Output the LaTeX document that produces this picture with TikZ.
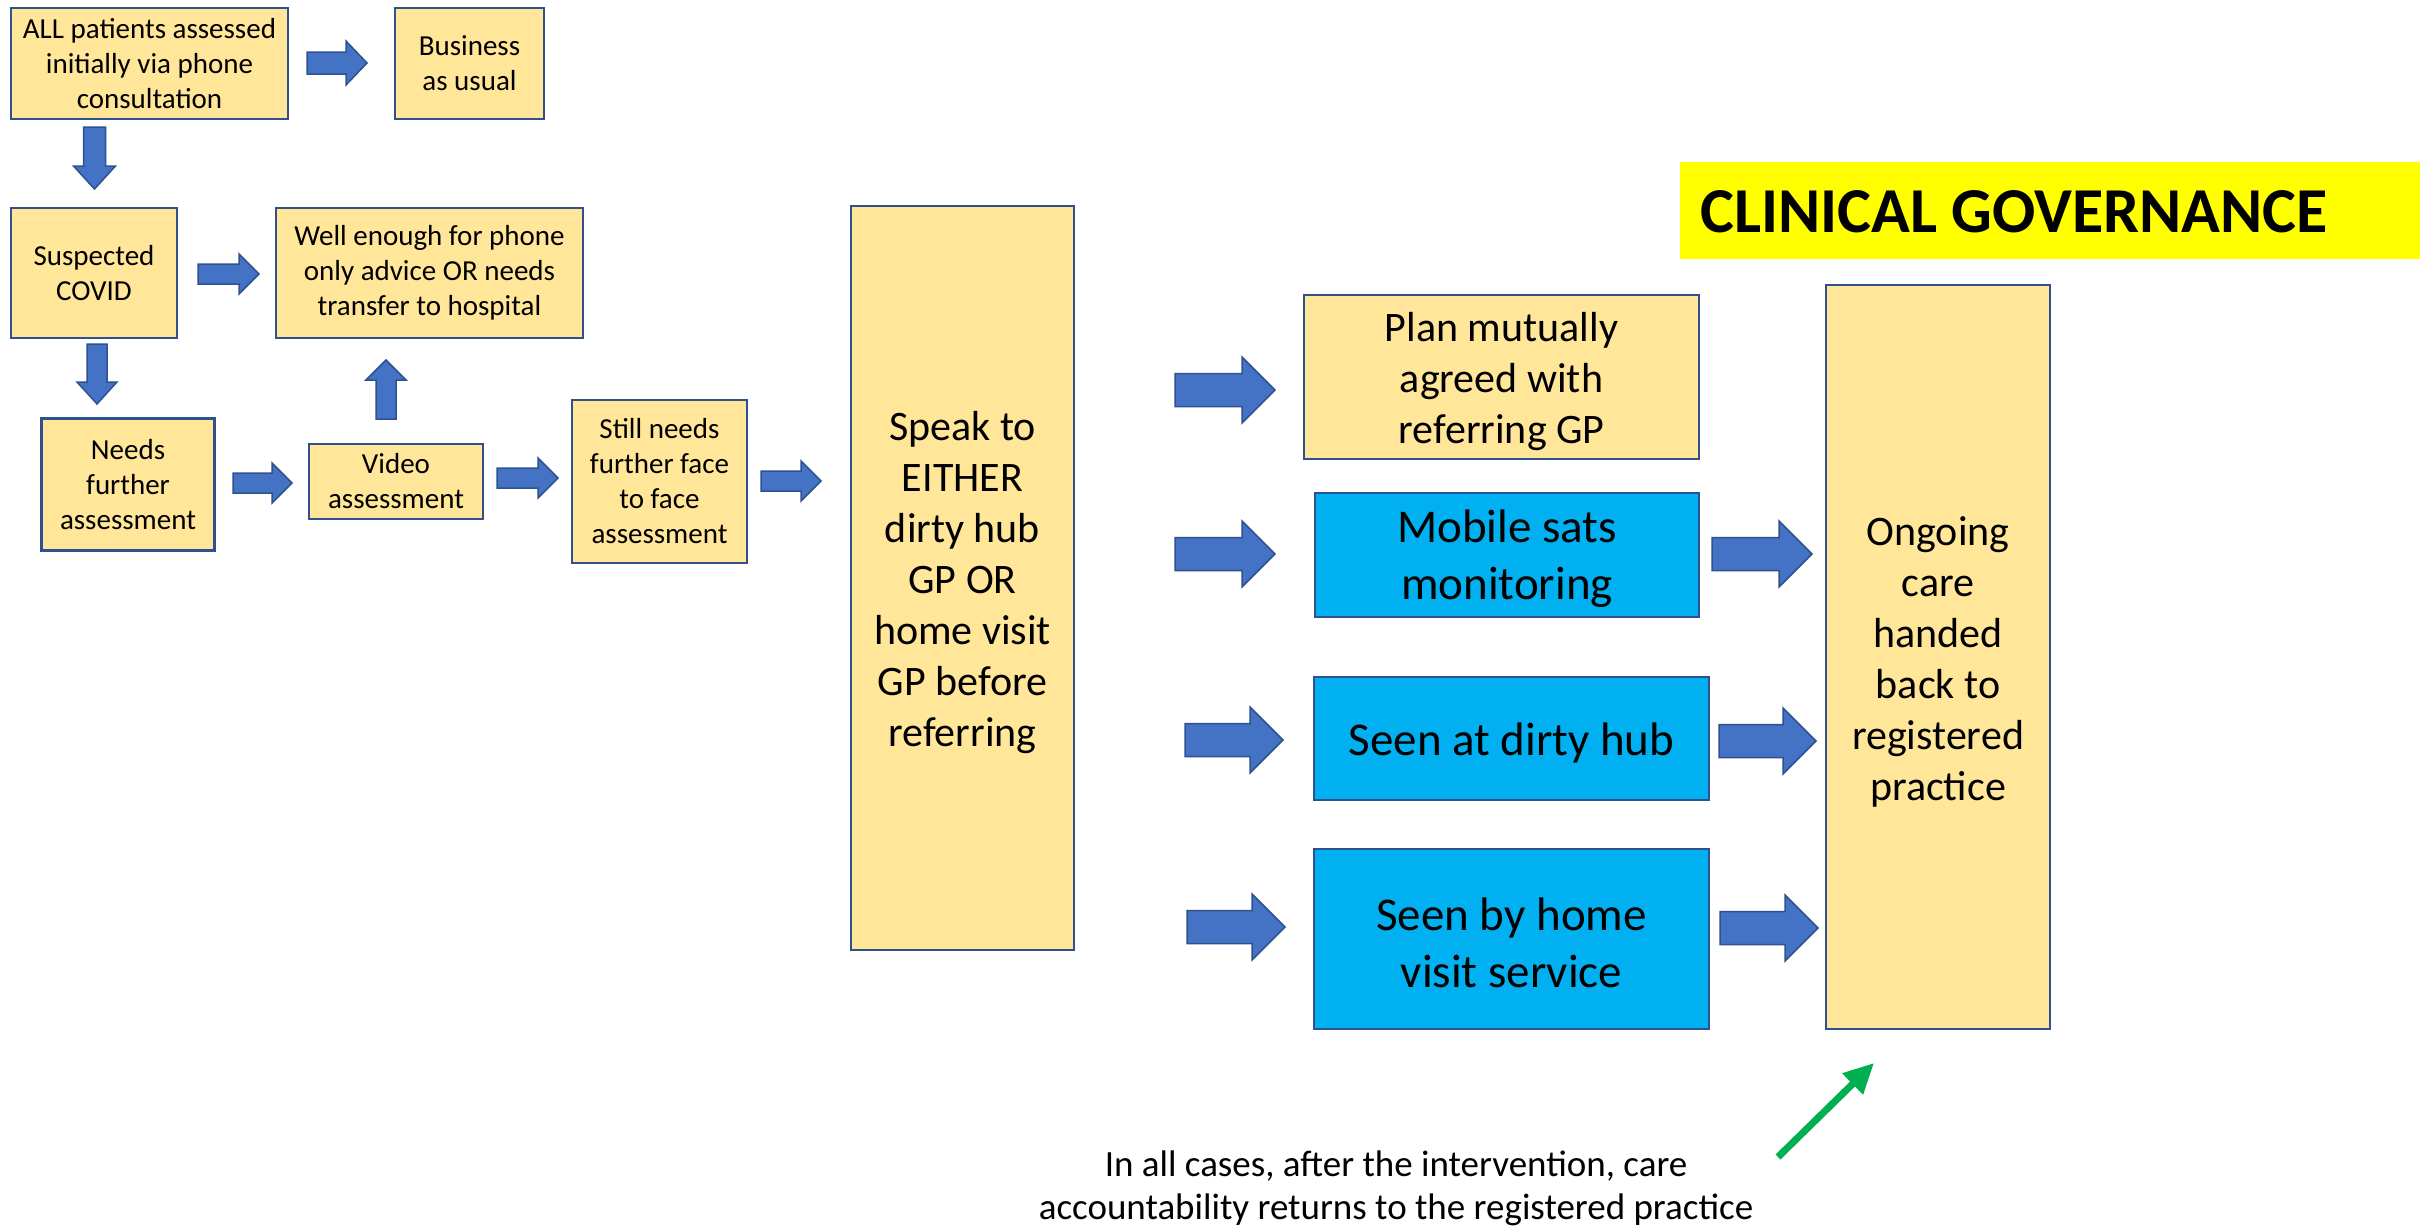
\documentclass[tikz,border=0pt]{standalone}
\usepackage{fontspec}
\setmainfont{Carlito}
\usetikzlibrary{arrows.meta}
\definecolor{boxyellow}{HTML}{FFE699}
\definecolor{boxblue}{HTML}{00B0F0}
\definecolor{boxline}{HTML}{2F528F}
\definecolor{arrowblue}{HTML}{4472C4}
\definecolor{arrowline}{HTML}{2F528F}
\definecolor{bannery}{HTML}{FFFF00}
\definecolor{greenarrow}{HTML}{00B050}
\newcommand{\barrow}[6]{%
  \draw[blockarrow, shift={(#1)}, rotate=#2]
    (0,-#4) -- ({#3-#6},-#4) -- ({#3-#6},-#5) -- (#3,0) -- ({#3-#6},#5) -- ({#3-#6},#4) -- (0,#4) -- cycle;}
\tikzset{
  ybox/.style={draw=boxline, fill=boxyellow, line width=2.5pt, inner sep=0pt, align=center, text=black},
  bbox/.style={ybox, fill=boxblue},
  smalltxt/.style={font=\fontsize{29}{35}\selectfont},
  bigtxt/.style={font=\fontsize{42}{51}\selectfont, align=center, inner sep=0pt, yshift=-5pt},
  midtxt/.style={font=\fontsize{47}{57}\selectfont, align=center, inner sep=0pt, yshift=-4pt},
  blockarrow/.style={fill=arrowblue, draw=arrowline, line width=1.5pt, line join=miter},
}
\begin{document}
\begin{tikzpicture}[x=1pt,y=-1pt]
\useasboundingbox[fill=white] (0,0) rectangle (2430,1229);
% left column boxes
\node[ybox, smalltxt, minimum width=277, minimum height=111] (all) at (149.5,63.5) {ALL patients assessed\\initially via phone\\consultation};
\node[ybox, smalltxt, minimum width=149, minimum height=111] (bau) at (469.5,63.5) {Business\\as usual};
\node[ybox, smalltxt, minimum width=166, minimum height=130] (susp) at (94,273) {Suspected\\COVID};
\node[ybox, smalltxt, minimum width=307, minimum height=130] (well) at (429.5,273) {Well enough for phone\\only advice OR needs\\transfer to hospital};
\node[ybox, smalltxt, minimum width=173, minimum height=132] (needs) at (128,484.5) {Needs\\further\\assessment};
\node[ybox, smalltxt, minimum width=174, minimum height=75] (video) at (396,481.5) {Video\\assessment};
\node[ybox, smalltxt, minimum width=175, minimum height=163] (still) at (659.5,481.5) {Still needs\\further face\\to face\\assessment};
\node[ybox, minimum width=223, minimum height=744,
  label={[bigtxt]center:{Speak to\\EITHER\\dirty hub\\GP OR\\home visit\\GP before\\referring}}] (speak) at (962.5,578) {};
% right column
\node[ybox, minimum width=395, minimum height=164,
  label={[bigtxt]center:{Plan mutually\\agreed with\\referring GP}}] (plan) at (1501.5,377) {};
\node[bbox, minimum width=384, minimum height=124,
  label={[midtxt]center:{Mobile sats\\monitoring}}] (mobile) at (1507,555) {};
\node[bbox, minimum width=395, minimum height=123,
  label={[midtxt]center:{Seen at dirty hub}}] (dirty) at (1511.5,738.5) {};
\node[bbox, minimum width=395, minimum height=180,
  label={[midtxt]center:{Seen by home\\visit service}}] (home) at (1511.5,939) {};
\node[ybox, minimum width=224, minimum height=744,
  label={[bigtxt]center:{Ongoing\\care\\handed\\back to\\registered\\practice}}] (ongoing) at (1938,657) {};
\node[fill=bannery, minimum width=740, minimum height=97, inner sep=0pt] (banner) at (2050,210.5) {};
\node[anchor=west, inner sep=0pt, font=\fontsize{64}{76}\selectfont\bfseries] (cg) at (1700,212) {CLINICAL GOVERNANCE};
% arrow start points
\coordinate (s1) at (307,63);
\coordinate (s2) at (94.5,127);
\coordinate (s3) at (198,274);
\coordinate (s4) at (97,344);
\coordinate (s5) at (233,483);
\coordinate (s6) at (386,419);
\coordinate (s7) at (497,478);
\coordinate (s8) at (761,481);
\coordinate (s9) at (1175,390);
\coordinate (s10) at (1175,554);
\coordinate (s11) at (1185,740);
\coordinate (s12) at (1187,927);
\coordinate (s13) at (1712,554);
\coordinate (s14) at (1719,741);
\coordinate (s15) at (1720,928);
\barrow{s1}{0}{60}{11}{22}{21}
\barrow{s2}{-90}{62}{11}{21}{23}
\barrow{s3}{0}{61}{10}{20}{20}
\barrow{s4}{-90}{60}{10}{20}{22}
\barrow{s5}{0}{59}{10}{20}{20}
\barrow{s6}{90}{59}{10}{20}{20}
\barrow{s7}{0}{61}{10}{20}{20}
\barrow{s8}{0}{60}{10}{20}{20}
\barrow{s9}{0}{100}{16.5}{33}{33}
\barrow{s10}{0}{100}{16.5}{33}{33}
\barrow{s11}{0}{98}{16.5}{33}{33}
\barrow{s12}{0}{98}{16.5}{33}{33}
\barrow{s13}{0}{100}{16.5}{33}{33}
\barrow{s14}{0}{97}{16.5}{33}{33}
\barrow{s15}{0}{98}{16.5}{33}{33}
% note and green arrow
\node[align=center, inner sep=0pt, font=\fontsize{37}{43}\selectfont] (note) at (1396,1188) {In all cases, after the intervention, care\\accountability returns to the registered practice};
\coordinate (gtail) at (1778,1157);
\coordinate (gtip) at (1874,1063);
\draw[greenarrow, line width=7pt, -{Triangle[length=30pt,width=28pt]}] (gtail) -- (gtip);
\end{tikzpicture}
\end{document}
